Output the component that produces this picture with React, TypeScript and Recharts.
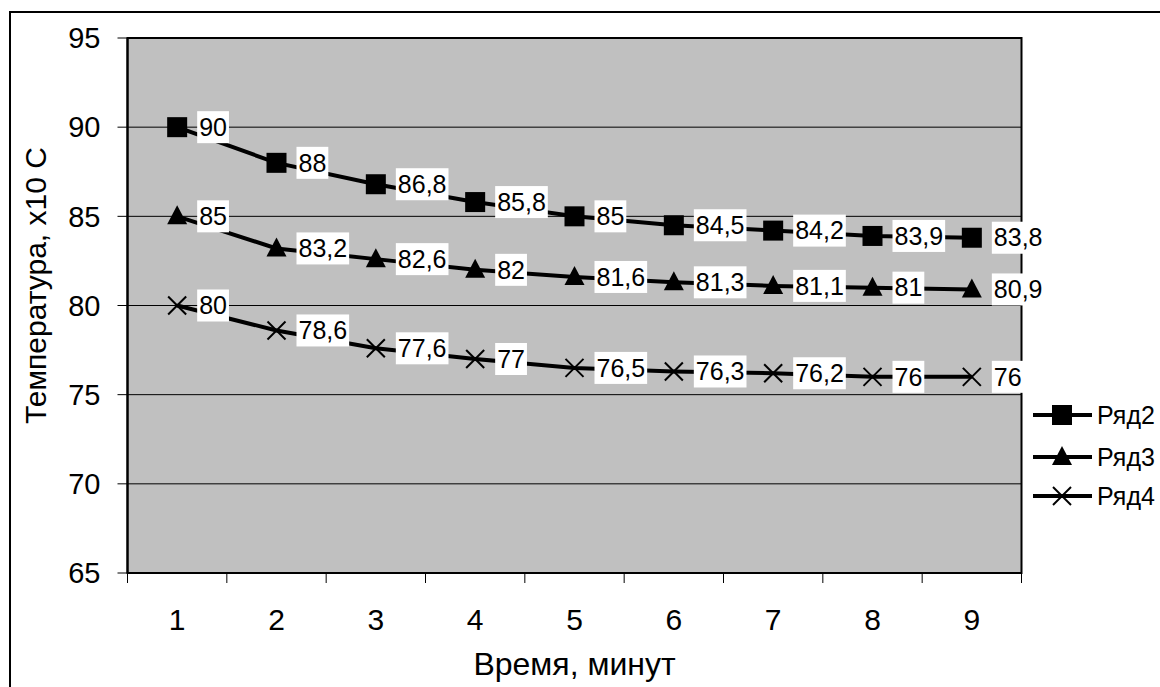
import React from 'react'
import { LineChart, Line, XAxis, YAxis, CartesianGrid, LabelList, ReferenceArea } from 'recharts'

const minutes = [1, 2, 3, 4, 5, 6, 7, 8, 9]
const row2 = [90, 88, 86.8, 85.8, 85, 84.5, 84.2, 83.9, 83.8]
const row3 = [85, 83.2, 82.6, 82, 81.6, 81.3, 81.1, 81, 80.9]
const row4 = [80, 78.6, 77.6, 77, 76.5, 76.3, 76.2, 76, 76]
const yTicks = [65, 70, 75, 80, 85, 90, 95]
const xBounds = [0.5, 1.5, 2.5, 3.5, 4.5, 5.5, 6.5, 7.5, 8.5, 9.5]
const seriesNames = ['Ряд2', 'Ряд3', 'Ряд4']

const data = minutes.map((m, i) => ({ x: m, r2: row2[i], r3: row3[i], r4: row4[i] }))

const FONT = '"Liberation Sans", Arial, sans-serif'
const W = 1160
const H = 687
const PLOT_LEFT = 127.5
const PLOT_RIGHT = 1021.5
const BAND = (PLOT_RIGHT - PLOT_LEFT) / minutes.length

const fmt = (v: number) => String(v).replace('.', ',')

function textWidth(s: string, size: number) {
  let w = 0
  for (const c of s) w += c === ',' ? 0.278 : 0.556
  return w * size
}

function DataLabel(props: any) {
  const { x, y, value } = props
  if (x == null || y == null) return null
  const s = fmt(value)
  const fs = 25
  const tw = textWidth(s, fs)
  return (
    <g>
      <rect x={x + 20} y={y - 16} width={tw + 4} height={32} fill="#ffffff" />
      <text x={x + 22} y={y} dy={fs * 0.35} fontSize={fs} fontFamily={FONT} fill="#000">
        {s}
      </text>
    </g>
  )
}

function Square({ cx, cy }: any) {
  if (cx == null || cy == null) return null
  return <rect x={cx - 10} y={cy - 10} width={20} height={20} fill="#000" />
}

function Triangle({ cx, cy }: any) {
  if (cx == null || cy == null) return null
  return <polygon points={`${cx},${cy - 11} ${cx - 10},${cy + 8} ${cx + 10},${cy + 8}`} fill="#000" />
}

function Cross({ cx, cy }: any) {
  if (cx == null || cy == null) return null
  return (
    <g stroke="#000" strokeWidth={2}>
      <line x1={cx - 9} y1={cy - 9} x2={cx + 9} y2={cy + 9} />
      <line x1={cx - 9} y1={cy + 9} x2={cx + 9} y2={cy - 9} />
    </g>
  )
}

function XTick(props: any) {
  const { x, y, payload } = props
  const v = payload.value
  if (v >= minutes[minutes.length - 1]) return null
  return (
    <text x={x + BAND / 2} y={y} dy={47} textAnchor="middle" fontSize={30} fontFamily={FONT} fill="#000">
      {v + 0.5}
    </text>
  )
}

function YTitle(props: any) {
  const vb = props.viewBox || {}
  const cx = 35
  const cy = (vb.y ?? 38) + (vb.height ?? 535) / 2 - 20
  return (
    <text
      x={cx}
      y={cy}
      dy={30 * 0.35}
      transform={`rotate(-90 ${cx} ${cy})`}
      textAnchor="middle"
      fontSize={30}
      fontFamily={FONT}
      fill="#000"
    >
      Температура, x10 C
    </text>
  )
}

const markers = [Square, Triangle, Cross]

export default function App() {
  return (
    <div style={{ position: 'absolute', left: 0, top: 0, width: W, height: H, overflow: 'hidden', background: '#fff' }}>
      <div
        style={{
          position: 'absolute',
          left: 9,
          top: 11,
          width: W + 20,
          height: H + 20,
          border: '2px solid #000',
          boxSizing: 'border-box',
        }}
      />
      <div style={{ position: 'absolute', left: 0, top: 0 }}>
        <LineChart width={W} height={H} data={data} margin={{ top: 38, right: W - PLOT_RIGHT, bottom: 0, left: 0 }}>
          <CartesianGrid vertical={false} stroke="#000" strokeWidth={1} fill="#c0c0c0" fillOpacity={1} />
          <XAxis
            dataKey="x"
            type="number"
            domain={[0.5, 9.5]}
            ticks={xBounds}
            interval={0}
            height={114}
            tickSize={10}
            tickMargin={0}
            tick={<XTick />}
            axisLine={{ stroke: '#000', strokeWidth: 2 }}
            tickLine={{ stroke: '#000', strokeWidth: 1 }}
            label={{ value: 'Время, минут', position: 'insideBottom', offset: 12, fontSize: 32, fontFamily: FONT, fill: '#000' }}
          />
          <YAxis
            type="number"
            domain={[65, 95]}
            ticks={yTicks}
            interval={0}
            width={PLOT_LEFT}
            tickSize={10}
            tickMargin={17}
            tick={{ fontSize: 29, fontFamily: FONT, fill: '#000' }}
            axisLine={{ stroke: '#000', strokeWidth: 2 }}
            tickLine={{ stroke: '#000', strokeWidth: 1 }}
            label={<YTitle />}
          />
          <ReferenceArea x1={0.5} x2={9.5} y1={65} y2={95} fill="none" stroke="#000" strokeWidth={2} />
          {['r2', 'r3', 'r4'].map((k, i) => {
            const M = markers[i]
            return (
              <Line
                key={k}
                dataKey={k}
                name={seriesNames[i]}
                stroke="#000"
                strokeWidth={4}
                dot={(p: any) => <M key={`${k}-${p.index}`} cx={p.cx} cy={p.cy} />}
                activeDot={false}
                isAnimationActive={false}
              >
                <LabelList dataKey={k} content={<DataLabel />} />
              </Line>
            )
          })}
        </LineChart>
      </div>
      <svg style={{ position: 'absolute', left: 1025, top: 390 }} width={135} height={130}>
        {seriesNames.map((n, i) => {
          const M = markers[i]
          const cy = [25, 67, 106][i]
          return (
            <g key={n}>
              <line x1={8} y1={cy} x2={67} y2={cy} stroke="#000" strokeWidth={4} />
              <M cx={37} cy={cy} />
              <text x={72} y={cy} dy={25 * 0.35} fontSize={25} fontFamily={FONT} fill="#000">
                {n}
              </text>
            </g>
          )
        })}
      </svg>
    </div>
  )
}
